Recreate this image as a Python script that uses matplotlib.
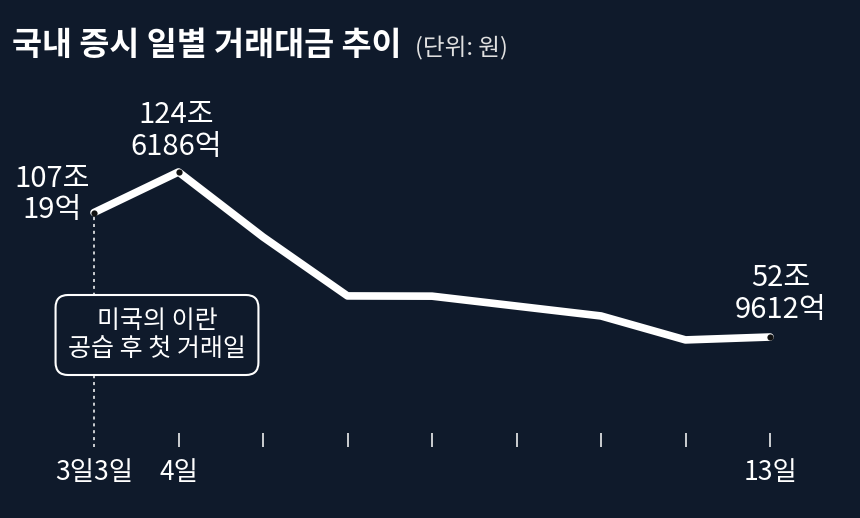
import matplotlib
matplotlib.use("Agg")
import matplotlib.pyplot as plt

plt.rcParams["font.family"] = ["Noto Sans CJK KR", "DejaVu Sans"]

# 일별 거래대금 (조 원)
days = ["3일", "4일", "5일", "6일", "9일", "10일", "11일", "12일", "13일"]
values = [107.0019, 124.6186, 96.4, 70.8, 70.7, 66.4, 62.1, 51.7, 52.9612]
tick_labels = ["3일3일", "4일", "", "", "", "", "", "", "13일"]
point_labels = {0: "107조\n19억", 1: "124조\n6186억", 8: "52조\n9612억"}
label_offsets = {0: (-42, 18), 1: (-2, 41), 8: (11, 43)}
note = "미국의 이란\n공습 후 첫 거래일"

bg = "#0f1a2b"
fg = "white"

fig = plt.figure(figsize=(8.6, 5.18), dpi=100, facecolor=bg)
ax = fig.add_axes([0, 1 - 447 / 518, 1, 447 / 518])
ax.set_facecolor(bg)

x = list(range(len(values)))
ax.plot(x, values, color=fg, lw=5.5, solid_capstyle="round",
        solid_joinstyle="round", zorder=3)
ax.plot([x[i] for i in point_labels], [values[i] for i in point_labels],
        "o", ms=4.5, mfc="#111111", mec="none", zorder=4)

# 첫 거래일 점선
ax.vlines(0, 5.2, values[0], colors=fg, linestyles=(0, (2, 2.5)), lw=1.1, zorder=1)

for i, txt in point_labels.items():
    ax.annotate(txt, (x[i], values[i]), xytext=label_offsets[i],
                textcoords="offset pixels", ha="center", va="center",
                color=fg, fontsize=21, linespacing=1.05)

ax.set_xlim(-94 / 84.5, 766 / 84.5)
ax.set_ylim(5.2, 199.3)
ax.set_xticks(x)
ax.set_xticklabels(tick_labels)
ax.tick_params(axis="x", direction="in", length=10, width=1.1, colors=fg,
               labelsize=19, pad=9)
ax.xaxis.get_major_ticks()[0].tick1line.set_visible(False)
ax.set_yticks([])
for s in ax.spines.values():
    s.set_visible(False)

fig.text(157 / 860, 1 - 335 / 518, note, ha="center", va="center",
         color=fg, fontsize=18, linespacing=1.15,
         bbox=dict(boxstyle="round,pad=0.5,rounding_size=0.5",
                   fc=bg, ec=fg, lw=1.5), zorder=5)

fig.text(12 / 860, 1 - 45 / 518, "국내 증시 일별 거래대금 추이", ha="left",
         va="center", color=fg, fontsize=23.5, fontweight="bold")
fig.text(415 / 860, 1 - 48 / 518, "(단위: 원)", ha="left", va="center",
         color="#e0e0e0", fontsize=17)

fig.savefig("out.png", dpi=100, facecolor=bg)
